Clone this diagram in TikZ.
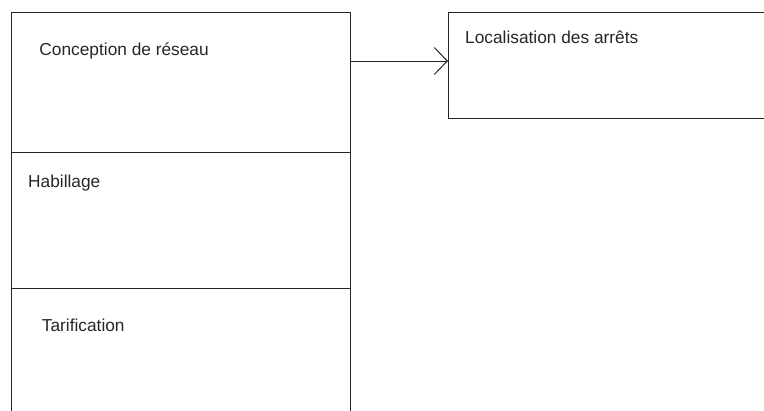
\documentclass[tikz,border=0pt]{standalone}
\usepackage{fontspec}
\setmainfont{Liberation Sans}
\usetikzlibrary{arrows.meta}
\begin{document}
\begin{tikzpicture}[x=1bp,y=-1bp,
  box/.style={draw=black!85, line width=1bp, rectangle, inner sep=0pt, anchor=north west},
  lbl/.style={anchor=base west, inner sep=0pt, text=black!85, font=\fontsize{17.3bp}{20bp}\selectfont},
  conn/.style={draw=black!85, line width=1bp, -{Straight Barb[length=13bp,width=27bp,line width=1bp]}}]
\useasboundingbox (0,0) rectangle (764,410);
\clip (0,0) rectangle (764,410);
\node[box, minimum width=339bp, minimum height=140bp] (a) at (11,12) {};
\node[box, minimum width=339bp, minimum height=135.5bp] (b) at (11,152) {};
\node[box, minimum width=339bp, minimum height=150bp] (c) at (11,287.5) {};
\node[box, minimum width=340bp, minimum height=106bp] (l) at (448,12) {};
\node[lbl] (ta) at (39.3,55) {Conception de réseau};
\node[lbl] (tb) at (28,187) {Habillage};
\node[lbl] (tc) at (41.7,331) {Tarification};
\node[lbl] (tl) at (465,43.5) {Localisation des arrêts};
\coordinate (s) at (350,61);
\draw[conn] (s) -- (l.west |- s);
\end{tikzpicture}
\end{document}
